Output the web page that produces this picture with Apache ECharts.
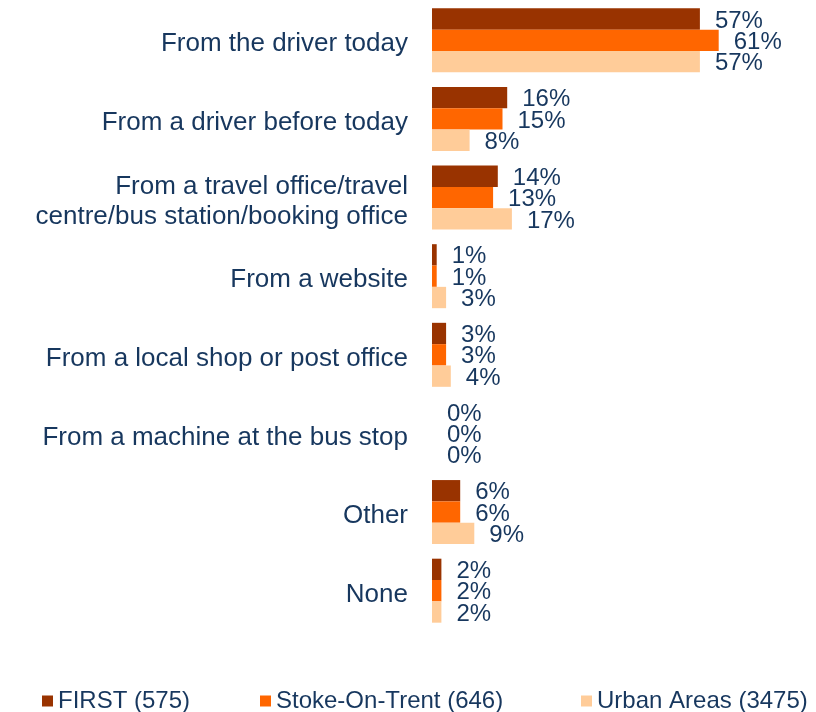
<!DOCTYPE html>
<html>
<head>
<meta charset="utf-8">
<script src="https://cdn.jsdelivr.net/npm/echarts@6/dist/echarts.min.js"></script>
<style>
  html, body { margin: 0; padding: 0; background: #fff; }
  #chart { width: 816px; height: 712px; }
</style>
</head>
<body>
<div id="chart"></div>
<script>
// ticket purchase source, % by area
const categories = [
    'From the driver today',
    'From a driver before today',
    'From a travel office/travel\ncentre/bus station/booking office',
    'From a website',
    'From a local shop or post office',
    'From a machine at the bus stop',
    'Other',
    'None'
];
const seriesNames = ['FIRST (575)', 'Stoke-On-Trent (646)', 'Urban Areas (3475)'];
const firstValues = [57, 16, 14, 1, 3, 0, 6, 2];
const stokeValues = [61, 15, 13, 1, 3, 0, 6, 2];
const urbanValues = [57, 8, 17, 3, 4, 0, 9, 2];
const colors = ['#993300', '#ff6600', '#ffcc99'];

const textColor = '#17375e';
const fontFamily = 'Arial, "Liberation Sans", sans-serif';

const myChart = echarts.init(document.getElementById('chart'));

const makeSeries = (name, data) => ({
    type: 'bar',
    name: name,
    data: data,
    barGap: 0,
    barCategoryGap: '18.6%',
    label: {
        show: true,
        position: 'right',
        distance: 15,
        offset: [0, 2],
        formatter: '{c}%',
        color: textColor,
        fontSize: 24,
        fontFamily: fontFamily
    }
});

// one legend per item so each sits where the original puts it
const legendAt = (name, left) => ({
    data: [name],
    left: left,
    top: 684,
    itemWidth: 11,
    itemHeight: 11,
    itemGap: 6,
    icon: 'rect',
    textStyle: { color: textColor, fontSize: 24, fontFamily: fontFamily }
});

const options = {
    animation: false,
    color: colors,
    legend: [
        legendAt(seriesNames[0], 37),
        legendAt(seriesNames[1], 255),
        legendAt(seriesNames[2], 576)
    ],
    grid: {
        left: 432,
        top: 1,
        width: 329,
        height: 629,
        containLabel: false
    },
    xAxis: {
        type: 'value',
        min: 0,
        max: 70,
        show: false
    },
    yAxis: {
        type: 'category',
        inverse: true,
        data: categories,
        axisLine: { show: false },
        axisTick: { show: false },
        splitLine: { show: false },
        axisLabel: {
            margin: 24,
            align: 'right',
            // nudge the names down a little, as in the original
            formatter: v => v.split('\n').map(s => '{a|' + s + '}').join('\n'),
            rich: {
                a: {
                    color: textColor,
                    fontSize: 26,
                    lineHeight: 30,
                    fontFamily: fontFamily,
                    padding: [8, 0, 0, 0]
                }
            }
        }
    },
    series: [
        makeSeries(seriesNames[0], firstValues),
        makeSeries(seriesNames[1], stokeValues),
        makeSeries(seriesNames[2], urbanValues)
    ]
};

myChart.setOption(options);
</script>
</body>
</html>
